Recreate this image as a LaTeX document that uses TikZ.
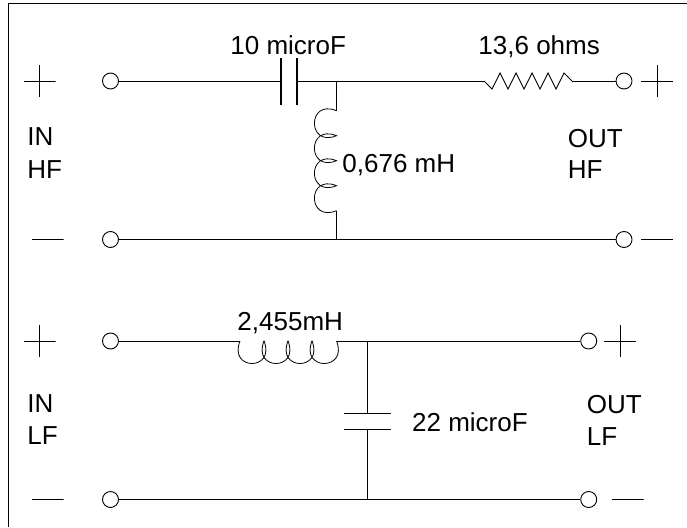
\documentclass[tikz,border=0pt]{standalone}
\usepackage{fontspec}
\setmainfont{Liberation Sans}

\begin{document}
\begin{tikzpicture}[x=1pt,y=-1pt,-,line width=0.9pt,
        term node/.style={circle,draw,inner sep=0,minimum size=16pt},
        plus node/.style={inner sep=0,minimum size=32pt,path picture={
            \draw (path picture bounding box.west) -- (path picture bounding box.east);
            \draw (path picture bounding box.north) -- (path picture bounding box.south);}},
        minus node/.style={inner sep=0,minimum width=32pt,minimum height=2pt,path picture={
            \draw (path picture bounding box.west) -- (path picture bounding box.east);}},
        text node/.style={inner sep=0,anchor=base west,font=\fontsize{26}{26}\selectfont}]
    \useasboundingbox (0,0) rectangle (687,527);
    \draw (8.5,527) -- (8.5,3.5) -- (687,3.5);

    % HF section
    \node[term node] (i1) at (110.5,81) {};
    \node[term node] (o1) [right of = i1, node distance=513.5pt] {};
    \node[term node] (i2) [below of = i1, node distance=158.5pt] {};
    \node[term node] (o2) [below of = o1, node distance=158.5pt] {};

    \node[plus node] (p1) [left of = i1, node distance=71pt] {};
    \node[plus node] (p2) [right of = o1, node distance=33pt] {};
    \node[minus node] (m1) [left of = i2, node distance=63pt] {};
    \node[minus node] (m2) [right of = o2, node distance=33pt] {};

    \coordinate (c1a) at (281,81);
    \coordinate (c1b) at (297,81);
    \coordinate (r1a) at (484,81);
    \coordinate (r1b) at (572,81);
    \coordinate (j1) at (336.5,81);
    \coordinate (j2) at (336.5,239.5);
    \coordinate (l1a) at (336.5,110.7);
    \coordinate (l1b) at (336.5,210.7);

    \path (i1) edge (c1a)
          (c1b) edge (r1a)
          (r1b) edge (o1)
          (i2) edge (o2)
          (j1) edge (l1a)
          (l1b) edge (j2);

    \draw[line width=1.2pt] (281,58) -- (281,105);
    \draw[line width=1.2pt] (297,58) -- (297,105);
    \draw (r1a) -- ++(8,8) -- ++(8,-16) -- ++(8,16) -- ++(8,-16) -- ++(8,16) -- ++(8,-16)
        -- ++(8,16) -- ++(8,-16) -- ++(8,16) -- ++(8,-16) -- (r1b);
    \draw[line width=0.8pt] (l1a) .. controls +(-29.5,-12) and +(-29.5,12) .. ++(0,25)
        .. controls +(-29.5,-12) and +(-29.5,12) .. ++(0,25)
        .. controls +(-29.5,-12) and +(-29.5,12) .. ++(0,25)
        .. controls +(-29.5,-12) and +(-29.5,12) .. (l1b);

    \node[text node] (t1) at (230,54) {10 microF};
    \node[text node] (t2) at (478,54) {13,6 ohms};
    \node[text node] (t3) at (342,172) {0,676 mH};
    \node[text node] (t4) at (27,145.7) {IN};
    \node[text node] (t5) at (27,178) {HF};
    \node[text node] (t6) at (567.5,147) {OUT};
    \node[text node] (t7) at (567.5,178) {HF};

    % LF section
    \node[term node] (i3) [below of = i1, node distance=260pt] {};
    \node[term node] (o3) [right of = i3, node distance=478.2pt] {};
    \node[term node] (i4) [below of = i3, node distance=158.5pt] {};
    \node[term node] (o4) [below of = o3, node distance=158.5pt] {};

    \node[plus node] (p3) [left of = i3, node distance=71pt] {};
    \node[plus node] (p4) [right of = o3, node distance=31.5pt] {};
    \node[minus node] (m3) [left of = i4, node distance=63pt] {};
    \node[minus node] (m4) [right of = o4, node distance=39pt] {};

    \coordinate (l2a) at (240,341);
    \coordinate (l2b) at (336.5,341);
    \coordinate (j3) at (367.3,341);
    \coordinate (j4) at (367.3,499.5);
    \coordinate (c2a) at (367.3,413.7);
    \coordinate (c2b) at (367.3,429.7);

    \path (i3) edge (l2a)
          (l2b) edge (o3)
          (i4) edge (o4)
          (j3) edge (c2a)
          (c2b) edge (j4);

    \draw (344,413.7) -- (391,413.7);
    \draw (344,429.7) -- (391,429.7);
    \draw[line width=0.8pt] (l2a) .. controls +(-12,30) and +(12,30) .. ++(24,0)
        .. controls +(-12,30) and +(12,30) .. ++(24,0)
        .. controls +(-12,30) and +(12,30) .. ++(24,0)
        .. controls +(-12,30) and +(12,30) .. (l2b);

    \node[text node] (t8) at (237,330.7) {2,455mH};
    \node[text node] (t9) at (411.7,431) {22 microF};
    \node[text node] (t10) at (27,412) {IN};
    \node[text node] (t11) at (27,444) {LF};
    \node[text node] (t12) at (586.5,413) {OUT};
    \node[text node] (t13) at (586.5,445) {LF};
\end{tikzpicture}
\end{document}
